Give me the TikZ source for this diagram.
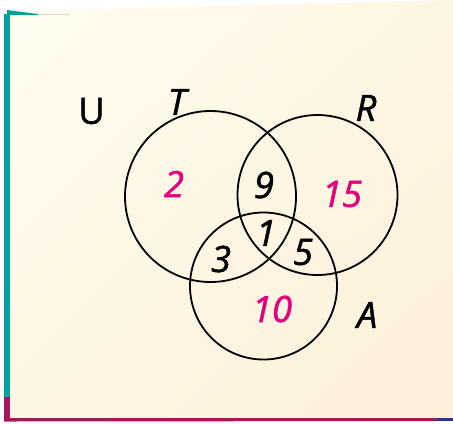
\documentclass[tikz,border=0pt]{standalone}
\usepackage{fontspec}
\usetikzlibrary{shadings}
\setmainfont{Open Sans}
\newfontfamily\lblfont[FakeBold=1.4]{Open Sans}
\definecolor{paperA}{HTML}{FFFCEF}
\definecolor{paperB}{HTML}{FDEFD9}
\definecolor{paperM}{HTML}{FEF6E4}
\definecolor{tealbar}{HTML}{00A19A}
\definecolor{magbar}{HTML}{A6185E}
\definecolor{navybar}{HTML}{2E3192}
\definecolor{numpink}{HTML}{E4007C}
\tikzset{
  setc/.style={draw=black, line width=1.8bp},
  lbl/.style={inner sep=0pt, font=\lblfont\fontsize{36.5}{40}\selectfont\itshape},
  num/.style={lbl, text=numpink},
  innum/.style={lbl, text=black},
}
\begin{document}
\begin{tikzpicture}[x=1bp,y=-1bp]
\useasboundingbox (0,0) rectangle (453,423);
\fill[white] (0,0) rectangle (453,423);
% paper
\shade[upper left=paperA, upper right=paperM, lower left=paperM, lower right=paperB]
  (8,11) -- (453,0) -- (453,418) -- (8,418) -- cycle;
% left bars
\fill[tealbar] (4,14) rectangle (10,397);
\fill[magbar] (4,397) rectangle (10,421);
% bottom bars
\fill[magbar] (4,418) -- (437,418) -- (437,421) -- (4,421.5) -- cycle;
\fill[navybar] (437,417.5) rectangle (453,421);
% top teal wedge
\fill[tealbar] (7,10) -- (38,14) -- (38,15) -- (7,15) -- cycle;
\draw[black!15, line width=0.8bp] (38,14.5) -- (70,14.5);
% circles
\node[setc, circle, minimum size=171bp, inner sep=0pt] (T) at (210.5,196.5) {};
\node[setc, circle, minimum size=160bp, inner sep=0pt] (R) at (317.5,195) {};
\node[setc, circle, minimum size=147bp, inner sep=0pt] (A) at (263.5,286) {};
% labels
\node[inner sep=0pt, font=\lblfont\fontsize{36.5}{40}\selectfont] (U) at (91.5,111) {U};
\node[innum] (Tl) at (177,102) {T};
\node[innum] (Rl) at (366,108) {R};
\node[innum] (Al) at (367,315) {A};
\node[num] (n2) at (174,184) {2};
\node[num] (n15) at (342,194) {15};
\node[num] (n10) at (272,309) {10};
\node[innum] (n9) at (264,185) {9};
\node[innum] (n1) at (266,233) {1};
\node[innum] (n3) at (221,259) {3};
\node[innum] (n5) at (303,252) {5};
\end{tikzpicture}
\end{document}
